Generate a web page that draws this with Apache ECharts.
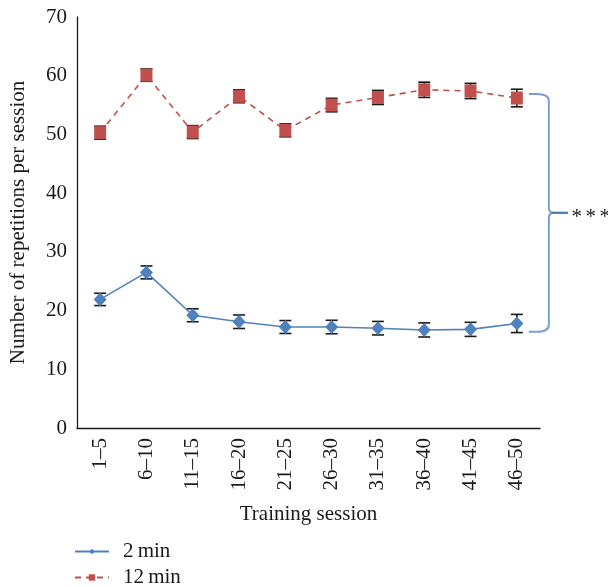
<!DOCTYPE html>
<html>
<head>
<meta charset="utf-8">
<script src="https://cdn.jsdelivr.net/npm/echarts@6/dist/echarts.min.js"></script>
<style>
  html, body { margin: 0; padding: 0; background: #fff; }
  #chart { width: 608px; height: 587px; }
</style>
</head>
<body>
<div id="chart"></div>
<script>
// Training sessions (blocks of five)
const sessions = ['1–5', '6–10', '11–15', '16–20', '21–25', '26–30', '31–35', '36–40', '41–45', '46–50'];

// Mean repetitions per session and their error margins
const rest2 = [21.9, 26.5, 19.2, 18.1, 17.2, 17.2, 17.0, 16.7, 16.8, 17.8];
const rest2Err = [1.05, 1.1, 1.1, 1.15, 1.1, 1.15, 1.15, 1.2, 1.2, 1.55];
const rest12 = [50.3, 60.1, 50.4, 56.5, 50.7, 55.0, 56.3, 57.6, 57.4, 56.2];
const rest12Err = [1.1, 1.05, 1.1, 1.1, 1.1, 1.15, 1.2, 1.3, 1.3, 1.5];

const seriesNames = ['2 min', '12 min'];
const yTicks = { min: 0, max: 70, interval: 10 };
// Span of the significance bracket (value units) and its marks
const bracketSpan = [56.9, 16.4];
const bracketMarks = ['*', '*', '*'];

const FONT = '"Liberation Serif", "DejaVu Serif", serif';
const FS = 21;
const INK = '#1a1a1a';
const BLUE = '#4F81BD';
const RED = '#C0504D';

function errorData(values, errs) {
  return values.map((v, i) => [i, v - errs[i], v + errs[i]]);
}

function renderErrorBar(params, api) {
  const lo = api.coord([api.value(0), api.value(1)]);
  const hi = api.coord([api.value(0), api.value(2)]);
  const half = 6;
  const style = { stroke: INK, lineWidth: 1.6 };
  return {
    type: 'group',
    children: [
      { type: 'line', shape: { x1: lo[0], y1: lo[1], x2: hi[0], y2: hi[1] }, style },
      { type: 'line', shape: { x1: lo[0] - half, y1: lo[1], x2: lo[0] + half, y2: lo[1] }, style },
      { type: 'line', shape: { x1: hi[0] - half, y1: hi[1], x2: hi[0] + half, y2: hi[1] }, style }
    ]
  };
}

// Curly bracket joining the two groups, placed right of the last session
function renderBracket(params, api) {
  const top = api.coord([api.value(0), api.value(1)]);
  const bot = api.coord([api.value(0), api.value(2)]);
  const yTop = top[1];
  const yBot = bot[1];
  const yMid = (yTop + yBot) / 2;
  const x0 = top[0] + 12;
  const xv = top[0] + 32;
  const xt = top[0] + 51;
  const path =
    'M' + x0 + ' ' + yTop +
    ' L' + (xv - 12) + ' ' + yTop +
    ' Q' + xv + ' ' + yTop + ' ' + xv + ' ' + (yTop + 7) +
    ' L' + xv + ' ' + (yMid - 5) +
    ' Q' + xv + ' ' + yMid + ' ' + (xv + 5) + ' ' + yMid +
    ' L' + xt + ' ' + yMid +
    ' M' + (xv + 5) + ' ' + yMid +
    ' Q' + xv + ' ' + yMid + ' ' + xv + ' ' + (yMid + 5) +
    ' L' + xv + ' ' + (yBot - 7) +
    ' Q' + xv + ' ' + yBot + ' ' + (xv - 12) + ' ' + yBot +
    ' L' + x0 + ' ' + yBot;
  const children = [
    {
      type: 'path',
      shape: { pathData: path },
      style: { stroke: '#7A9FCF', lineWidth: 2, fill: null }
    },
    {
      type: 'line',
      shape: { x1: xv + 3, y1: yMid, x2: xt, y2: yMid },
      style: { stroke: '#4A78B8', lineWidth: 2 }
    }
  ];
  bracketMarks.forEach((m, i) => {
    children.push({
      type: 'text',
      x: xt + 9 + i * 14,
      y: yMid + 5,
      style: {
        text: m,
        font: FS + 'px ' + FONT,
        fill: INK,
        verticalAlign: 'middle',
        align: 'center'
      }
    });
  });
  return { type: 'group', children };
}

const legendText = { fontFamily: FONT, fontSize: FS, color: INK, padding: [0, 0, 0, 9] };
const legendLabel = (name) => name.replace(' ', '\u2009');

const chart = echarts.init(document.getElementById('chart'), null, { renderer: 'canvas' });

chart.setOption({
  animation: false,
  backgroundColor: '#fff',
  textStyle: { fontFamily: FONT },
  grid: { left: 77, right: 68, top: 17, bottom: 159, containLabel: false },
  legend: [
    {
      data: [seriesNames[0]],
      left: 69, top: 536,
      itemWidth: 34, itemHeight: 7,
      formatter: legendLabel,
      textStyle: legendText
    },
    {
      data: [seriesNames[1]],
      left: 69, top: 562,
      itemWidth: 34, itemHeight: 8,
      formatter: legendLabel,
      textStyle: legendText
    }
  ],
  xAxis: {
    type: 'category',
    data: sessions,
    boundaryGap: true,
    axisLine: { lineStyle: { color: INK, width: 1.3 } },
    axisTick: { show: false },
    axisLabel: { rotate: 90, margin: 10, fontFamily: FONT, fontSize: FS, color: INK },
    name: 'Training session',
    nameLocation: 'middle',
    nameGap: 76,
    nameTextStyle: { fontFamily: FONT, fontSize: FS, color: INK }
  },
  yAxis: {
    type: 'value',
    min: yTicks.min,
    max: yTicks.max,
    interval: yTicks.interval,
    splitLine: { show: false },
    axisLine: { show: true, lineStyle: { color: INK, width: 1.3 } },
    axisTick: { show: false },
    axisLabel: { margin: 10, fontFamily: FONT, fontSize: FS, color: INK },
    name: 'Number of repetitions per session',
    nameLocation: 'middle',
    nameGap: 48,
    nameTextStyle: { fontFamily: FONT, fontSize: FS, color: INK }
  },
  series: [
    {
      name: '2 min err',
      type: 'custom',
      renderItem: renderErrorBar,
      data: errorData(rest2, rest2Err),
      z: 1,
      silent: true
    },
    {
      name: '12 min err',
      type: 'custom',
      renderItem: renderErrorBar,
      data: errorData(rest12, rest12Err),
      z: 1,
      silent: true
    },
    {
      name: seriesNames[0],
      type: 'line',
      data: rest2,
      symbol: 'diamond',
      symbolSize: [13, 14],
      lineStyle: { color: BLUE, width: 1.6 },
      itemStyle: { color: BLUE, borderWidth: 0 },
      z: 3
    },
    {
      name: seriesNames[1],
      type: 'line',
      data: rest12,
      symbol: 'rect',
      symbolSize: [12, 13],
      lineStyle: { color: RED, width: 1.6, type: [6, 5] },
      itemStyle: { color: RED, borderWidth: 0 },
      z: 3
    },
    {
      name: 'bracket',
      type: 'custom',
      renderItem: renderBracket,
      data: [[sessions.length - 1, bracketSpan[0], bracketSpan[1]]],
      clip: false,
      silent: true,
      z: 2
    }
  ]
});
</script>
</body>
</html>
